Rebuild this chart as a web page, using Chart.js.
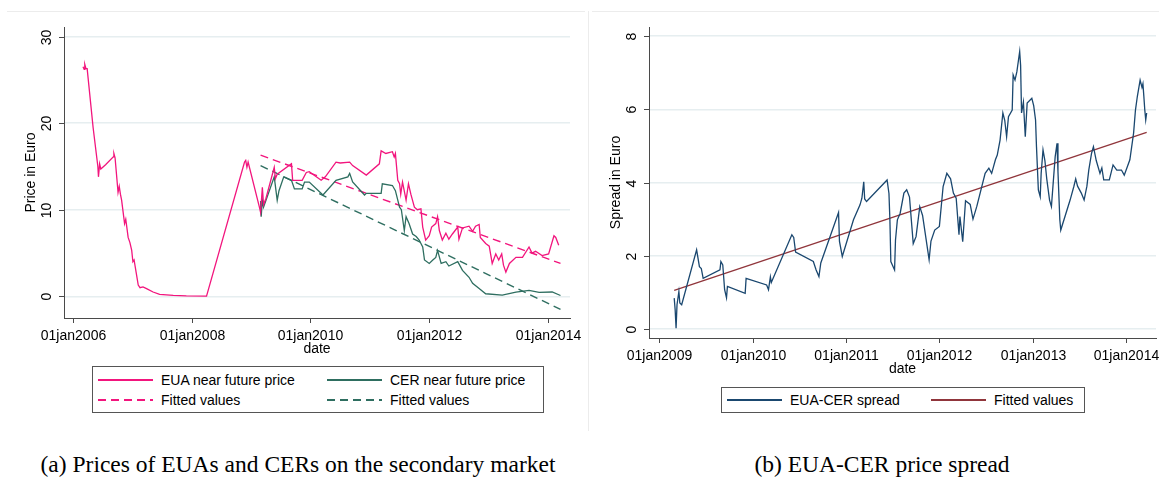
<!DOCTYPE html>
<html>
<head>
<meta charset="utf-8">
<script src="https://cdn.jsdelivr.net/npm/chart.js@4.4.1/dist/chart.umd.min.js"></script>
<style>
  html, body { margin: 0; padding: 0; background: #fff; }
  body { width: 1159px; height: 477px; position: relative; overflow: hidden;
         font-family: "Liberation Sans", Arial, sans-serif; color: #000; }
  .abs { position: absolute; }
  .frame-h { height: 1px; background: #ececec; top: 11px; }
  .frame-v { width: 1px; background: #ececec; left: 588px; top: 11px; height: 420px; }
  .legend { border: 1px solid #555; box-sizing: border-box; }
  .item { position: absolute; font-size: 14px; line-height: 16px; white-space: nowrap; }
  .sample { position: absolute; height: 1.5px; width: 55px; }
  .caption { font-family: "Liberation Serif", "DejaVu Serif", serif; font-size: 23.5px;
             line-height: 28px; white-space: nowrap; transform: translateX(-50%); top: 450px; }
</style>
</head>
<body>
<div class="abs frame-h" style="left:7px;width:578px"></div>
<div class="abs frame-h" style="left:592px;width:567px"></div>
<div class="abs frame-v"></div>

<canvas id="chartA" class="abs" style="left:0;top:0" width="585" height="360"></canvas>
<canvas id="chartB" class="abs" style="left:592px;top:0" width="567" height="380"></canvas>

<div id="legendA" class="abs legend" style="left:92px;top:366px;width:452px;height:47px"></div>
<div id="legendB" class="abs legend" style="left:721px;top:387px;width:364px;height:26px"></div>

<div class="abs caption" style="left:298px">(a) Prices of EUAs and CERs on the secondary market</div>
<div class="abs caption" style="left:882px">(b) EUA-CER price spread</div>

<script>
/**
 * EUA / CER prices (left) and EUA-CER spread (right)
 * Dates are decimal years, values in Euro.
 */

const AXIS_COLOR = '#4a4a4a';
const GRID_COLOR = '#e6eef0';
const EUA_COLOR = '#f2157d';
const CER_COLOR = '#2e6e60';
const SPREAD_COLOR = '#1a476f';
const FIT_COLOR = '#90353b';
const FONT = '14px "Liberation Sans", Arial, sans-serif';

// --- panel (a) ---
const A_X_TICKS = [2006, 2008, 2010, 2012, 2014];
const A_Y_TICKS = [0, 10, 20, 30];

const EUA_T = [
  2006.17, 2006.19, 2006.20, 2006.22, 2006.24, 2006.34, 2006.42, 2006.43, 2006.45, 2006.47,
  2006.55, 2006.68, 2006.69, 2006.71, 2006.76, 2006.78, 2006.80, 2006.82, 2006.87, 2006.89,
  2006.93, 2006.96, 2006.99, 2007.01, 2007.03, 2007.10, 2007.13, 2007.18, 2007.24, 2007.35,
  2007.46, 2007.69, 2007.91, 2008.25, 2008.89, 2008.91, 2008.93, 2008.95, 2009.14, 2009.16,
  2009.19, 2009.21, 2009.25, 2009.39, 2009.41, 2009.44, 2009.68, 2009.70, 2009.86, 2009.93,
  2009.98, 2010.18, 2010.25, 2010.43, 2010.50, 2010.66, 2010.71, 2010.94, 2011.16, 2011.19,
  2011.27, 2011.38, 2011.41, 2011.43, 2011.47, 2011.50, 2011.52, 2011.55, 2011.61, 2011.65,
  2011.69, 2011.75, 2011.80, 2011.86, 2011.89, 2011.94, 2012.00, 2012.04, 2012.11, 2012.14,
  2012.17, 2012.22, 2012.28, 2012.33, 2012.39, 2012.48, 2012.50, 2012.56, 2012.67, 2012.73,
  2012.78, 2012.84, 2012.86, 2012.95, 2013.01, 2013.06, 2013.12, 2013.17, 2013.22, 2013.25,
  2013.29, 2013.35, 2013.46, 2013.57, 2013.68, 2013.73, 2013.79, 2013.90, 2014.01, 2014.10,
  2014.13, 2014.18
];
const EUA_PRICE = [
  26.5, 26.2, 26.8, 26.3, 26.3, 19.5, 15.0, 13.8, 15.3, 14.7,
  15.2, 16.1, 16.5, 16.0, 12.0, 12.7, 11.8, 11.1, 8.4, 8.9,
  6.8, 6.2, 5.3, 4.0, 4.2, 1.3, 1.0, 1.1, 0.9, 0.5,
  0.23, 0.12, 0.05, 0.03, 15.5, 15.7, 14.9, 15.5, 10.3, 9.7,
  12.6, 10.6, 11.3, 14.9, 13.6, 14.1, 15.3, 13.4, 13.4, 14.3,
  14.4, 13.4, 13.8, 15.5, 15.4, 15.5, 15.1, 14.0, 15.3, 16.8,
  16.5, 16.7, 16.1, 16.5, 13.4, 13.0, 11.8, 13.2, 11.1, 13.0,
  11.8, 10.3, 10.0, 10.1, 8.0, 6.5, 7.0, 8.0, 8.4, 9.2,
  7.6, 6.5, 7.3, 6.6, 7.2, 8.0, 6.6, 7.9, 8.1, 7.5,
  8.1, 8.3, 6.8, 6.1, 5.8, 3.8, 4.9, 4.2, 4.9, 3.6,
  2.8, 3.8, 4.5, 4.5, 5.7, 5.0, 5.2, 4.7, 4.9, 7.0,
  6.8, 5.9
];

const CER_T = [
  2009.16, 2009.17, 2009.19, 2009.21, 2009.39, 2009.44, 2009.47, 2009.55, 2009.68, 2009.73,
  2009.86, 2009.90, 2009.98, 2010.21, 2010.43, 2010.63, 2010.66, 2010.71, 2010.91, 2010.94,
  2011.19, 2011.21, 2011.38, 2011.43, 2011.50, 2011.53, 2011.58, 2011.61, 2011.66, 2011.72,
  2011.78, 2011.83, 2011.89, 2011.92, 2012.00, 2012.06, 2012.11, 2012.14, 2012.20, 2012.28,
  2012.33, 2012.48, 2012.56, 2012.67, 2012.73, 2012.84, 2012.95, 2013.23, 2013.46, 2013.68,
  2013.85, 2014.07, 2014.21
];
const CER_PRICE = [
  11.0, 9.2, 11.1, 10.3, 13.8, 11.1, 12.2, 13.8, 13.4, 12.4,
  12.4, 13.2, 13.2, 11.7, 13.4, 13.8, 14.2, 13.2, 11.7, 11.9,
  11.9, 13.0, 12.8, 12.2, 10.3, 10.0, 7.6, 9.2, 8.4, 7.2,
  6.9, 6.5, 5.7, 4.2, 3.8, 4.2, 4.5, 5.3, 3.8, 4.0,
  3.5, 4.0, 3.0, 2.2, 1.5, 0.9, 0.3, 0.15, 0.5, 0.7,
  0.45, 0.5, 0.1
];

// linear fits (end points of the fitted line)
const FIT_A_T = [2009.16, 2014.21];
const EUA_FIT = [16.3, 3.8];
const CER_FIT = [15.1, -1.5];

// --- panel (b) ---
const B_X_TICKS = [2009, 2010, 2011, 2012, 2013, 2014];
const B_Y_TICKS = [0, 2, 4, 6, 8];

const SPREAD_T = [
  2009.16, 2009.17, 2009.18, 2009.19, 2009.21, 2009.22, 2009.24, 2009.40, 2009.43, 2009.45,
  2009.47, 2009.65, 2009.66, 2009.68, 2009.70, 2009.72, 2009.73, 2009.92, 2009.93, 2010.15,
  2010.17, 2010.19, 2010.20, 2010.42, 2010.44, 2010.46, 2010.65, 2010.68, 2010.71, 2010.73,
  2010.92, 2010.93, 2010.96, 2011.08, 2011.15, 2011.17, 2011.19, 2011.20, 2011.22, 2011.44,
  2011.46, 2011.47, 2011.48, 2011.52, 2011.53, 2011.55, 2011.58, 2011.62, 2011.65, 2011.68,
  2011.72, 2011.75, 2011.79, 2011.82, 2011.89, 2011.91, 2011.95, 2012.00, 2012.04, 2012.08,
  2012.12, 2012.15, 2012.18, 2012.21, 2012.22, 2012.25, 2012.28, 2012.33, 2012.36, 2012.40,
  2012.49, 2012.53, 2012.56, 2012.60, 2012.62, 2012.65, 2012.68, 2012.70, 2012.72, 2012.74,
  2012.78, 2012.79, 2012.81, 2012.83, 2012.86, 2012.87, 2012.88, 2012.90, 2012.92, 2012.94,
  2012.99, 2013.01, 2013.03, 2013.04, 2013.06, 2013.08, 2013.09, 2013.11, 2013.13, 2013.15,
  2013.18, 2013.20, 2013.24, 2013.26, 2013.27, 2013.29, 2013.30, 2013.40, 2013.44, 2013.46,
  2013.48, 2013.52, 2013.55, 2013.58, 2013.60, 2013.63, 2013.65, 2013.68, 2013.72, 2013.74,
  2013.76, 2013.82, 2013.86, 2013.90, 2013.95, 2013.98, 2014.04, 2014.08, 2014.10, 2014.12,
  2014.15, 2014.17, 2014.18, 2014.19, 2014.20, 2014.21, 2014.22
];
const SPREAD = [
  0.84, 0.53, 0.02, 0.66, 1.02, 0.71, 0.66, 2.16, 1.70, 1.65,
  1.38, 1.61, 1.84, 1.75, 1.07, 0.85, 1.16, 0.97, 1.38, 1.20,
  1.07, 1.42, 1.27, 2.57, 2.50, 2.10, 1.84, 1.61, 1.43, 1.80,
  3.18, 2.39, 1.98, 2.98, 3.39, 3.57, 4.02, 3.55, 3.48, 4.07,
  3.70, 2.98, 1.84, 1.61, 2.43, 2.98, 3.16, 3.71, 3.80, 3.60,
  2.33, 2.52, 3.34, 3.10, 1.89, 2.40, 2.70, 2.80, 3.89, 4.25,
  4.10, 3.71, 3.57, 2.57, 3.07, 2.38, 3.50, 3.40, 3.00, 3.34,
  4.25, 4.39, 4.25, 4.62, 4.75, 5.16, 5.90, 5.70, 5.25, 5.80,
  5.98, 6.94, 6.80, 7.03, 7.58, 7.20, 5.90, 6.20, 5.25, 6.17,
  6.30, 6.10, 5.71, 4.98, 3.80, 3.61, 4.25, 4.89, 4.60, 4.10,
  3.52, 3.34, 4.70, 5.07, 4.30, 2.98, 2.70, 3.52, 3.89, 4.10,
  3.90, 3.71, 3.52, 3.90, 4.34, 4.80, 4.98, 4.60, 4.25, 4.40,
  4.07, 4.07, 4.48, 4.34, 4.34, 4.20, 4.62, 5.35, 5.98, 6.35,
  6.80, 6.60, 6.70, 6.35, 5.98, 5.71, 5.90
];

const FIT_B_T = [2009.16, 2014.22];
const SPREAD_FIT = [1.05, 5.37];

/**
 * Zip time and value arrays into {x, y} points
 */
function pts(ts, vs) {
  return ts.map((t, i) => ({ x: t, y: vs[i] }));
}

/**
 * Stata-like axes: outside tick marks, rotated y labels, titles
 */
const stataAxes = {
  id: 'stataAxes',
  afterDraw(chart, args, opts) {
    const { ctx, chartArea: area, scales: { x, y } } = chart;
    ctx.save();
    ctx.strokeStyle = AXIS_COLOR;
    ctx.lineWidth = 1;
    ctx.fillStyle = '#000';
    ctx.font = FONT;
    ctx.textAlign = 'center';
    ctx.textBaseline = 'middle';

    x.ticks.forEach(t => {
      const px = Math.round(x.getPixelForValue(t.value)) + 0.5;
      ctx.beginPath();
      ctx.moveTo(px, area.bottom);
      ctx.lineTo(px, area.bottom + 5);
      ctx.stroke();
      ctx.fillText('01jan' + t.value, px, area.bottom + 18);
    });
    ctx.fillText(opts.xTitle, (area.left + area.right) / 2, area.bottom + 31);

    y.ticks.forEach(t => {
      const py = Math.round(y.getPixelForValue(t.value)) + 0.5;
      ctx.beginPath();
      ctx.moveTo(area.left - 5, py);
      ctx.lineTo(area.left, py);
      ctx.stroke();
      ctx.save();
      ctx.translate(area.left - 17, py);
      ctx.rotate(-Math.PI / 2);
      ctx.fillText(String(t.value), 0, 0);
      ctx.restore();
    });

    ctx.save();
    ctx.translate(area.left - 32.5, (area.top + area.bottom) / 2);
    ctx.rotate(-Math.PI / 2);
    ctx.fillText(opts.yTitle, 0, 0);
    ctx.restore();
    ctx.restore();
  },
};

/**
 * Shared scale setup
 */
function makeScales(xMin, xMax, xTicks, yMin, yMax, yTicks) {
  return {
    x: {
      type: 'linear', min: xMin, max: xMax,
      afterBuildTicks: s => { s.ticks = xTicks.map(v => ({ value: v })); },
      ticks: { display: false },
      grid: { display: false, drawTicks: false },
      border: { display: true, color: AXIS_COLOR, width: 1 },
    },
    y: {
      type: 'linear', min: yMin, max: yMax,
      afterBuildTicks: s => { s.ticks = yTicks.map(v => ({ value: v })); },
      ticks: { display: false },
      grid: { color: GRID_COLOR, lineWidth: 1.5, drawTicks: false },
      border: { display: true, color: AXIS_COLOR, width: 1 },
    },
  };
}

function lineSet(label, data, color, dashed) {
  return {
    label,
    data,
    borderColor: color,
    backgroundColor: color,
    borderWidth: dashed ? 1.4 : 1.3,
    borderDash: dashed ? [8, 5] : [],
    pointRadius: 0,
    tension: 0,
    fill: false,
  };
}

/**
 * HTML legend, Stata style boxes with line samples
 */
function renderLegend(el, chart, slots) {
  chart.data.datasets.forEach((ds, i) => {
    const s = slots[i];
    const sample = document.createElement('div');
    sample.className = 'sample';
    sample.style.left = s.x + 'px';
    sample.style.top = (s.y - 0.75) + 'px';
    if (ds.borderDash.length) {
      sample.style.background =
        `repeating-linear-gradient(90deg, ${ds.borderColor} 0 8px, transparent 8px 13px)`;
    } else {
      sample.style.background = ds.borderColor;
    }
    el.appendChild(sample);

    const txt = document.createElement('div');
    txt.className = 'item';
    txt.style.left = (s.x + 63) + 'px';
    txt.style.top = (s.y - 8) + 'px';
    txt.textContent = ds.label;
    el.appendChild(txt);
  });
}

function initCharts() {
  const chartA = new Chart(document.getElementById('chartA'), {
    type: 'line',
    data: {
      datasets: [
        lineSet('EUA near future price', pts(EUA_T, EUA_PRICE), EUA_COLOR, false),
        lineSet('CER near future price', pts(CER_T, CER_PRICE), CER_COLOR, false),
        lineSet('Fitted values', pts(FIT_A_T, EUA_FIT), EUA_COLOR, true),
        lineSet('Fitted values', pts(FIT_A_T, CER_FIT), CER_COLOR, true),
      ],
    },
    options: {
      responsive: false,
      animation: false,
      layout: { padding: { left: 64, right: 15, top: 27, bottom: 42 } },
      scales: makeScales(2005.85, 2014.37, A_X_TICKS, -2.5, 31.1, A_Y_TICKS),
      plugins: {
        legend: { display: false },
        tooltip: { enabled: false },
        stataAxes: { xTitle: 'date', yTitle: 'Price in Euro' },
      },
    },
    plugins: [stataAxes],
  });

  const chartB = new Chart(document.getElementById('chartB'), {
    type: 'line',
    data: {
      datasets: [
        lineSet('EUA-CER spread', pts(SPREAD_T, SPREAD), SPREAD_COLOR, false),
        lineSet('Fitted values', pts(FIT_B_T, SPREAD_FIT), FIT_COLOR, false),
      ],
    },
    options: {
      responsive: false,
      animation: false,
      layout: { padding: { left: 57, right: 3, top: 27, bottom: 42 } },
      scales: makeScales(2008.89, 2014.32, B_X_TICKS, -0.25, 8.25, B_Y_TICKS),
      plugins: {
        legend: { display: false },
        tooltip: { enabled: false },
        stataAxes: { xTitle: 'date', yTitle: 'Spread in Euro' },
      },
    },
    plugins: [stataAxes],
  });

  // legend slot positions relative to each legend box
  renderLegend(document.getElementById('legendA'), chartA, [
    { x: 5, y: 13 }, { x: 234, y: 13 }, { x: 5, y: 33 }, { x: 234, y: 33 },
  ]);
  renderLegend(document.getElementById('legendB'), chartB, [
    { x: 5, y: 12 }, { x: 209, y: 12 },
  ]);
}

initCharts();
</script>
</body>
</html>
